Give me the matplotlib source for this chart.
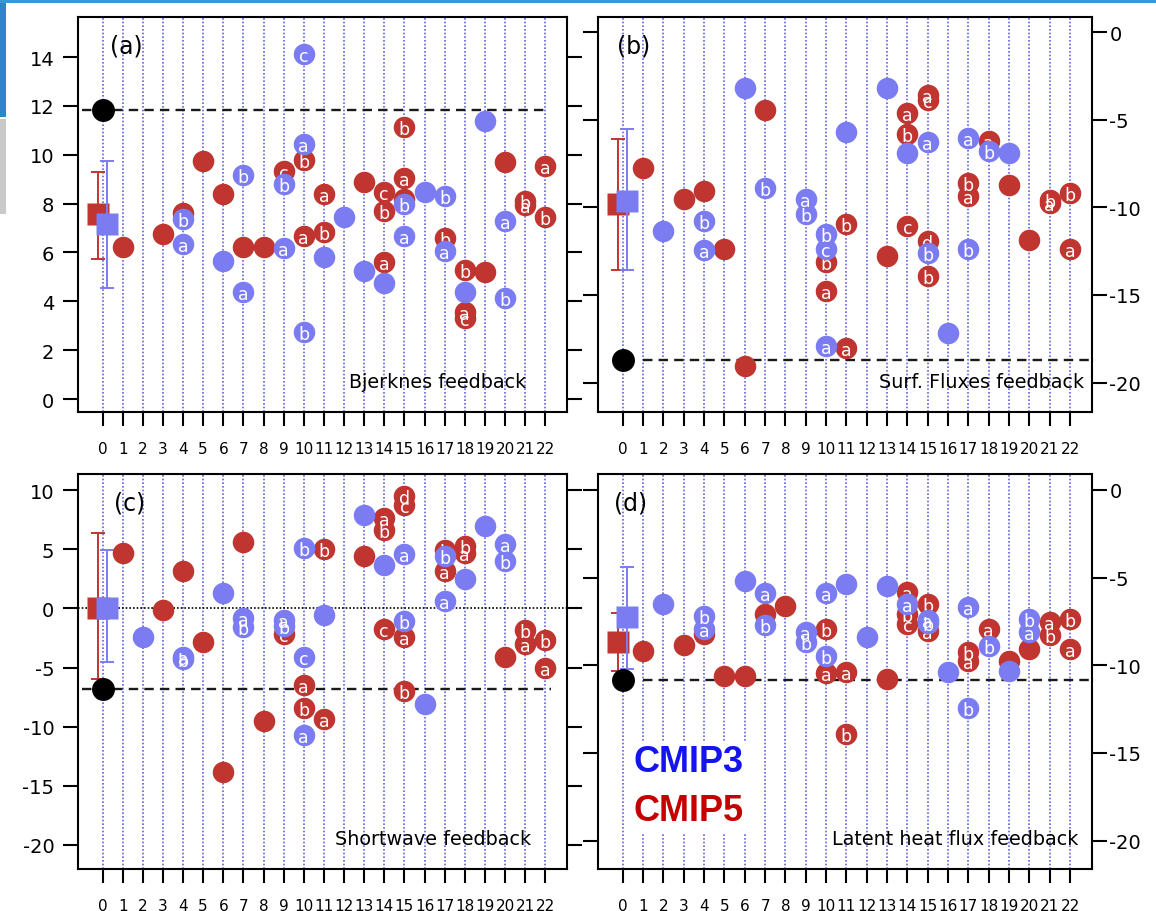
import matplotlib
matplotlib.use('Agg')
import matplotlib.pyplot as plt
from matplotlib.patches import Rectangle

plt.rcParams['font.family'] = ['DejaVu Sans']
plt.rcParams['axes.unicode_minus'] = False

RED = '#C0352F'
BLUE = '#7C7CF2'
VLINE = '#6262DC'

model_ticks = list(range(23))
model_ticklabels = [str(i) for i in model_ticks]

# ---------------- (a) Bjerknes feedback ----------------
a_obs = 11.85
a_mean = [7.57, 7.16]          # CMIP5, CMIP3
a_lo = [5.73, 4.54]
a_hi = [9.29, 9.74]
a_c5_x = [1, 3, 4, 5, 6, 7, 8, 9, 10, 10, 11, 11, 13, 14, 14, 14, 15, 15, 15,
          17, 18, 18, 18, 19, 20, 21, 21, 22, 22]
a_c5_y = [6.22, 6.75, 7.6, 9.73, 8.39, 6.22, 6.22, 9.35, 9.8, 6.66, 8.39, 6.85,
          8.87, 8.46, 7.71, 5.6, 11.12, 9.05, 8.2, 6.6, 5.3, 3.55, 3.3, 5.2, 9.69,
          8.1, 7.95, 9.55, 7.44]
a_c5_l = ['', '', '', '', '', '', '', 'c', 'b', 'a', 'a', 'b', '', 'c', 'b', 'a',
          'b', 'a', 'c', 'b', 'b', 'a', 'c', '', '', 'b', 'a', 'a', 'b']
a_c3_x = [4, 4, 6, 7, 7, 9, 9, 10, 10, 10, 11, 12, 13, 14, 15, 15, 16, 17, 17,
          18, 19, 20, 20]
a_c3_y = [7.37, 6.35, 5.66, 9.17, 4.37, 8.8, 6.17, 14.12, 10.44, 2.73, 5.8, 7.44,
          5.25, 4.77, 7.98, 6.68, 8.46, 8.32, 6.07, 4.37, 11.4, 7.3, 4.13]
a_c3_l = ['b', 'a', '', 'b', 'a', 'b', 'a', 'c', 'a', 'b', '', '', '', '', 'b', 'a',
          '', 'b', 'a', '', '', 'a', 'b']

# ---------------- (b) Surface fluxes feedback ----------------
b_obs = -18.7
b_mean = [-9.83, -9.64]
b_lo = [-13.6, -13.6]
b_hi = [-6.07, -5.54]
b_c5_x = [1, 3, 4, 5, 6, 7, 10, 10, 11, 11, 13, 14, 14, 14, 15, 15, 15, 15,
          17, 17, 18, 19, 20, 21, 21, 22, 22]
b_c5_y = [-7.73, -9.5, -9.07, -12.36, -19.07, -4.46, -13.14, -14.8, -10.97, -18.0,
          -12.78, -4.6, -5.83, -11.07, -3.6, -3.85, -11.9, -13.9, -8.6, -9.35,
          -6.2, -8.7, -11.87, -9.55, -9.75, -9.17, -12.4]
b_c5_l = ['', '', '', '', '', '', 'b', 'a', 'b', 'a', '', 'a', 'b', 'c', 'a', 'c',
          'd', 'b', 'b', 'a', 'a', '', '', 'b', 'a', 'b', 'a']
b_c3_x = [2, 4, 4, 6, 7, 9, 9, 10, 10, 10, 11, 13, 14, 15, 15, 16, 17, 17, 18, 19]
b_c3_y = [-11.35, -10.78, -12.43, -3.16, -8.87, -9.54, -10.4, -11.54, -12.4, -17.9,
          -5.7, -3.16, -6.9, -6.26, -12.6, -17.17, -6.02, -12.4, -6.8, -6.9]
b_c3_l = ['', 'b', 'a', '', 'b', 'a', 'b', 'b', 'c', 'a', '', '', '', 'a', 'b', '',
          'a', 'b', 'b', '']

# ---------------- (c) Shortwave feedback ----------------
c_obs = -6.85
c_mean = [0.0, 0.0]
c_lo = [-6.0, -4.5]
c_hi = [6.4, 4.9]
c_c5_x = [1, 3, 4, 5, 6, 7, 8, 9, 10, 10, 11, 11, 13, 14, 14, 14, 15, 15, 15, 15,
          17, 17, 18, 18, 20, 21, 21, 22, 22]
c_c5_y = [4.66, -0.17, 3.14, -2.82, -13.8, 5.59, -9.56, -2.2, -6.5, -8.4, 5.05,
          -9.35, 4.4, 7.6, 6.6, -1.76, 9.5, 8.7, -2.46, -6.95, 4.9, 3.2, 5.3, 4.66,
          -4.07, -1.86, -3.05, -2.71, -5.08]
c_c5_l = ['', '', '', '', '', '', '', 'c', 'a', 'b', 'b', 'a', '', 'a', 'b', 'c',
          'd', 'c', 'a', 'b', 'b', 'a', 'b', 'a', '', 'b', 'a', 'b', 'a']
c_c3_x = [2, 4, 4, 6, 7, 7, 9, 9, 10, 10, 10, 11, 13, 14, 15, 15, 16, 17, 17, 18,
          19, 20, 20]
c_c3_y = [-2.46, -4.1, -4.3, 1.27, -0.85, -1.6, -1.0, -1.5, 5.08, -4.15, -10.7,
          -0.56, 7.9, 3.64, 4.58, -1.1, -8.05, 4.4, 0.6, 2.46, 6.95, 5.42, 3.98]
c_c3_l = ['', 'a', 'b', '', 'a', 'b', 'a', 'b', 'b', 'c', 'a', '', '', '', 'a', 'b',
          '', 'b', 'a', '', '', 'a', 'b']

# ---------------- (d) Latent heat flux feedback ----------------
d_obs = -10.85
d_mean = [-8.67, -7.24]
d_lo = [-10.3, -10.2]
d_hi = [-7.0, -4.4]
d_c5_x = [1, 3, 4, 5, 6, 7, 8, 10, 10, 11, 11, 13, 14, 14, 14, 15, 15, 17, 17,
          18, 19, 20, 21, 21, 22, 22]
d_c5_y = [-9.17, -8.83, -8.2, -10.6, -10.6, -7.07, -6.6, -7.92, -10.43, -10.37,
          -13.9, -10.77, -5.8, -7.07, -7.63, -6.5, -8.05, -9.26, -9.73, -7.92,
          -9.73, -9.06, -7.52, -8.3, -7.35, -9.06]
d_c5_l = ['', '', '', '', '', '', '', 'b', 'a', 'a', 'b', '', 'a', 'b', 'c', 'b',
          'a', 'b', 'a', 'a', '', '', 'a', 'b', 'b', 'a']
d_c3_x = [2, 4, 4, 6, 7, 7, 9, 9, 10, 10, 11, 12, 13, 14, 15, 15, 16, 17, 17, 18,
          19, 20, 20]
d_c3_y = [-6.5, -7.18, -7.92, -5.18, -5.87, -7.69, -8.1, -8.67, -5.87, -9.46,
          -5.36, -8.38, -5.47, -6.5, -7.4, -7.6, -10.4, -6.67, -12.43, -8.9,
          -10.3, -7.35, -8.1]
d_c3_l = ['', 'b', 'a', '', 'a', 'b', 'a', 'b', 'a', 'b', '', '', '', 'a', 'a', 'b',
          '', 'a', 'b', 'b', '', 'b', 'a']

fig = plt.figure(figsize=(11.56, 9.12), dpi=100)

# slide decoration
fig.patches.append(Rectangle((0, 1 - 4 / 912), 1, 4 / 912, transform=fig.transFigure,
                             facecolor='#3A96D6', edgecolor='none', zorder=0))
fig.patches.append(Rectangle((0, 1 - 118 / 912), 6 / 1156, 114 / 912, transform=fig.transFigure,
                             facecolor='#2F86C6', edgecolor='none', zorder=0))
fig.patches.append(Rectangle((0, 1 - 215 / 912), 6 / 1156, 95 / 912, transform=fig.transFigure,
                             facecolor='#C9C9C9', edgecolor='none', zorder=0))

XL = (-1.22, 23.08)
MS = 15.5
LFS = 12.5


def panel(rect, obs, mean, lo, hi, c5x, c5y, c5l, c3x, c3y, c3l, ylim, yticks,
          side, letter, letter_x, title, title_x, dash_x, zero_line=False):
    ax = fig.add_axes(rect)
    ax.set_xlim(*XL)
    ax.set_ylim(*ylim)
    for xv in model_ticks:
        ax.axvline(xv, color=VLINE, lw=1.2, ls=(0, (1, 1.2)), zorder=1)
    if zero_line:
        ax.axhline(0, color='black', lw=1.2, ls=(0, (1, 1.2)), zorder=1.5)
    ax.plot(dash_x, [obs, obs], color='#1a1a1a', lw=1.7, dashes=(4, 2.6), zorder=2)
    # model means with spread
    ax.errorbar([-0.25], [mean[0]], yerr=[[mean[0] - lo[0]], [hi[0] - mean[0]]],
                fmt='s', ms=16, color=RED, mec='none', capsize=5, elinewidth=1.4,
                capthick=1.4, zorder=3)
    ax.errorbar([0.2], [mean[1]], yerr=[[mean[1] - lo[1]], [hi[1] - mean[1]]],
                fmt='s', ms=16, color=BLUE, mec='none', capsize=5, elinewidth=1.4,
                capthick=1.4, zorder=3.2)
    ax.plot([0], [obs], 'o', ms=MS, color='black', zorder=5)
    # CMIP5 models (red) first, CMIP3 (blue) on top
    for xs, ys, ls, col, z in ((c5x, c5y, c5l, RED, 3.5), (c3x, c3y, c3l, BLUE, 4)):
        ax.plot(xs, ys, 'o', ms=MS, color=col, mec='none', zorder=z, ls='none')
        for xv, yv, lab in zip(xs, ys, ls):
            if lab:
                ax.text(xv, yv, lab, color='white', ha='center', va='center_baseline',
                        fontsize=LFS, zorder=z + 0.05)
    ax.set_xticks(model_ticks)
    ax.set_xticklabels(model_ticklabels)
    ax.set_yticks(yticks)
    ax.set_yticklabels([str(v) for v in yticks])
    ax.tick_params(axis='x', direction='out', length=10, width=1.5, labelsize=11, pad=11)
    ax.tick_params(axis='y', direction='out', length=11, width=1.5, labelsize=14,
                   left=True, right=True, labelleft=(side == 'left'),
                   labelright=(side == 'right'), pad=6 if side == 'left' else 1.5)
    for sp in ax.spines.values():
        sp.set_linewidth(1.5)
    ax.text(letter_x, 0.929, letter, transform=ax.transAxes, ha='center', va='center',
            fontsize=17)
    ax.text(title_x, 0.076, title, transform=ax.transAxes, ha='right', va='center',
            fontsize=13.8, zorder=6)
    return ax


L1, W = 78 / 1156, 489 / 1156
L2, W2 = 598 / 1156, 494 / 1156
TB, H = 1 - 413 / 912, 395 / 912
BB = 1 - 870 / 912

ax_a = panel([L1, TB, W, H], a_obs, a_mean, a_lo, a_hi, a_c5_x, a_c5_y, a_c5_l,
             a_c3_x, a_c3_y, a_c3_l, (-0.53, 15.64), [0, 2, 4, 6, 8, 10, 12, 14],
             'left', '(a)', 0.099, 'Bjerknes feedback', 0.917, [-1.0, 22.0])
ax_b = panel([L2, TB, W2, H], b_obs, b_mean, b_lo, b_hi, b_c5_x, b_c5_y, b_c5_l,
             b_c3_x, b_c3_y, b_c3_l, (-21.68, 0.87), [0, -5, -10, -15, -20],
             'right', '(b)', 0.072, 'Surf. Fluxes feedback', 0.985, [1.0, 23.08])
ax_c = panel([L1, BB, W, H], c_obs, c_mean, c_lo, c_hi, c_c5_x, c_c5_y, c_c5_l,
             c_c3_x, c_c3_y, c_c3_l, (-22.03, 11.36), [10, 5, 0, -5, -10, -15, -20],
             'left', '(c)', 0.105, 'Shortwave feedback', 0.927, [-1.0, 22.3],
             zero_line=True)
ax_d = panel([L2, BB, W2, H], d_obs, d_mean, d_lo, d_hi, d_c5_x, d_c5_y, d_c5_l,
             d_c3_x, d_c3_y, d_c3_l, (-21.62, 0.91), [0, -5, -10, -15, -20],
             'right', '(d)', 0.066, 'Latent heat flux feedback', 0.973, [1.0, 23.08])

# legend text block
ax_d.add_patch(Rectangle((0.055, 0.089), 0.25, 0.235, transform=ax_d.transAxes,
                         facecolor='white', edgecolor='none', zorder=5))
ax_d.text(0.184, 0.271, 'CMIP3', transform=ax_d.transAxes, ha='center', va='center',
          fontsize=26, fontweight='bold', color='#1414F0', family='Liberation Sans', zorder=6)
ax_d.text(0.184, 0.147, 'CMIP5', transform=ax_d.transAxes, ha='center', va='center',
          fontsize=26, fontweight='bold', color='#C40000', family='Liberation Sans', zorder=6)

fig.savefig('out.png', dpi=100)
